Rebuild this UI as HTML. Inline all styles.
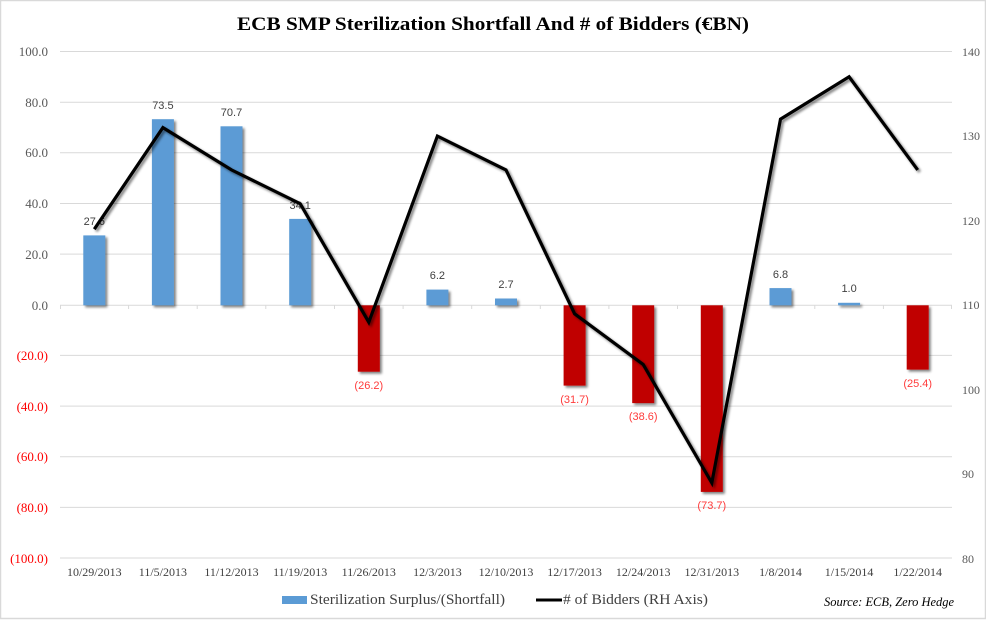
<!DOCTYPE html>
<html><head><meta charset="utf-8"><style>
html,body{margin:0;padding:0;background:#fff;}
svg{display:block;}
.serif{font-family:"Liberation Serif",serif;}
.sans{font-family:"Liberation Sans",sans-serif;}
</style></head><body>
<svg width="986" height="620" viewBox="0 0 986 620" xmlns="http://www.w3.org/2000/svg">
<defs>
<filter id="sh" x="-20%" y="-20%" width="140%" height="140%">
<feGaussianBlur in="SourceAlpha" stdDeviation="1.4"/>
<feOffset dx="2" dy="2" result="o"/>
<feComponentTransfer><feFuncA type="linear" slope="0.5"/></feComponentTransfer>
<feMerge><feMergeNode/><feMergeNode in="SourceGraphic"/></feMerge>
</filter>
</defs>
<rect x="0.5" y="0.5" width="985" height="618" fill="#fff" stroke="#d9d9d9" stroke-width="1.5"/>
<text class="serif" x="493" y="30" text-anchor="middle" font-weight="bold" font-size="19" fill="#000" textLength="512" lengthAdjust="spacingAndGlyphs">ECB SMP Sterilization Shortfall And # of Bidders (€BN)</text>
<g stroke="#d9d9d9" stroke-width="1">
<line x1="60" y1="51.5" x2="952" y2="51.5"/>
<line x1="60" y1="102.2" x2="952" y2="102.2"/>
<line x1="60" y1="152.8" x2="952" y2="152.8"/>
<line x1="60" y1="203.5" x2="952" y2="203.5"/>
<line x1="60" y1="254.1" x2="952" y2="254.1"/>
<line x1="60" y1="305.3" x2="952" y2="305.3"/>
<line x1="60" y1="355.4" x2="952" y2="355.4"/>
<line x1="60" y1="406.1" x2="952" y2="406.1"/>
<line x1="60" y1="456.7" x2="952" y2="456.7"/>
<line x1="60" y1="507.4" x2="952" y2="507.4"/>
<line x1="60" y1="558" x2="952" y2="558"/>
</g>
<g stroke="#d9d9d9" stroke-width="1">
<line x1="60.5" y1="305" x2="60.5" y2="309"/><line x1="128.6" y1="305" x2="128.6" y2="309"/><line x1="197.2" y1="305" x2="197.2" y2="309"/><line x1="265.8" y1="305" x2="265.8" y2="309"/><line x1="334.5" y1="305" x2="334.5" y2="309"/><line x1="403.1" y1="305" x2="403.1" y2="309"/><line x1="471.7" y1="305" x2="471.7" y2="309"/><line x1="540.3" y1="305" x2="540.3" y2="309"/><line x1="608.9" y1="305" x2="608.9" y2="309"/><line x1="677.5" y1="305" x2="677.5" y2="309"/><line x1="746.2" y1="305" x2="746.2" y2="309"/><line x1="814.8" y1="305" x2="814.8" y2="309"/><line x1="883.4" y1="305" x2="883.4" y2="309"/><line x1="951.5" y1="305" x2="951.5" y2="309"/>
</g>
<g class="serif" font-size="13" text-anchor="end">
<text x="48" y="56" fill="#595959">100.0</text>
<text x="48" y="107" fill="#595959">80.0</text>
<text x="48" y="157" fill="#595959">60.0</text>
<text x="48" y="208" fill="#595959">40.0</text>
<text x="48" y="259" fill="#595959">20.0</text>
<text x="48" y="310" fill="#595959">0.0</text>
<text x="48" y="360" fill="#ff0000">(20.0)</text>
<text x="48" y="411" fill="#ff0000">(40.0)</text>
<text x="48" y="461" fill="#ff0000">(60.0)</text>
<text x="48" y="512" fill="#ff0000">(80.0)</text>
<text x="48" y="563" fill="#ff0000">(100.0)</text>
</g>
<g class="serif" font-size="12" fill="#595959">
<text x="962" y="56">140</text>
<text x="962" y="140">130</text>
<text x="962" y="225">120</text>
<text x="962" y="309">110</text>
<text x="962" y="394">100</text>
<text x="962" y="478">90</text>
<text x="962" y="563">80</text>
</g>
<g class="serif" font-size="12" fill="#404040" text-anchor="middle">
<text x="94.3" y="576">10/29/2013</text>
<text x="162.9" y="576">11/5/2013</text>
<text x="231.5" y="576">11/12/2013</text>
<text x="300.2" y="576">11/19/2013</text>
<text x="368.8" y="576">11/26/2013</text>
<text x="437.4" y="576">12/3/2013</text>
<text x="506" y="576">12/10/2013</text>
<text x="574.6" y="576">12/17/2013</text>
<text x="643.2" y="576">12/24/2013</text>
<text x="711.8" y="576">12/31/2013</text>
<text x="780.5" y="576">1/8/2014</text>
<text x="849.1" y="576">1/15/2014</text>
<text x="917.7" y="576">1/22/2014</text>
</g>
<g filter="url(#sh)">
<rect x="83.3" y="235.4" width="22" height="69.9" fill="#5b9bd5"/>
<rect x="151.9" y="119.2" width="22" height="186.1" fill="#5b9bd5"/>
<rect x="220.5" y="126.3" width="22" height="179" fill="#5b9bd5"/>
<rect x="289.2" y="218.9" width="22" height="86.4" fill="#5b9bd5"/>
<rect x="357.8" y="305.3" width="22" height="66.4" fill="#c00000"/>
<rect x="426.4" y="289.6" width="22" height="15.7" fill="#5b9bd5"/>
<rect x="495" y="298.5" width="22" height="6.8" fill="#5b9bd5"/>
<rect x="563.6" y="305.3" width="22" height="80.3" fill="#c00000"/>
<rect x="632.2" y="305.3" width="22" height="97.8" fill="#c00000"/>
<rect x="700.8" y="305.3" width="22" height="186.6" fill="#c00000"/>
<rect x="769.5" y="288.1" width="22" height="17.2" fill="#5b9bd5"/>
<rect x="838.1" y="302.8" width="22" height="2.5" fill="#5b9bd5"/>
<rect x="906.7" y="305.3" width="22" height="64.3" fill="#c00000"/>
</g>
<g class="sans" font-size="11" text-anchor="middle">
<text x="94.3" y="225" fill="#404040">27.6</text>
<text x="162.9" y="109" fill="#404040">73.5</text>
<text x="231.5" y="116" fill="#404040">70.7</text>
<text x="300.2" y="209" fill="#404040">34.1</text>
<text x="368.8" y="389" fill="#ff3b3b">(26.2)</text>
<text x="437.4" y="279" fill="#404040">6.2</text>
<text x="506" y="288" fill="#404040">2.7</text>
<text x="574.6" y="403" fill="#ff3b3b">(31.7)</text>
<text x="643.2" y="420" fill="#ff3b3b">(38.6)</text>
<text x="711.8" y="509" fill="#ff3b3b">(73.7)</text>
<text x="780.5" y="278" fill="#404040">6.8</text>
<text x="849.1" y="292" fill="#404040">1.0</text>
<text x="917.7" y="387" fill="#ff3b3b">(25.4)</text>
</g>
<polyline filter="url(#sh)" fill="none" stroke="#000" stroke-width="3.2" stroke-linejoin="miter" points="94.3,229.2 162.9,127.6 231.5,169.9 300.2,203.7 368.8,322.2 437.4,136.1 506,169.9 574.6,313.8 643.2,364.5 711.8,482.9 780.5,119.1 849.1,76.8 917.7,169.9"/>
<rect x="282" y="596" width="25" height="8" fill="#5b9bd5"/>
<text class="serif" x="310" y="604" font-size="14.5" fill="#404040" textLength="195" lengthAdjust="spacingAndGlyphs">Sterilization Surplus/(Shortfall)</text>
<line x1="536" y1="600" x2="562" y2="600" stroke="#000" stroke-width="3"/>
<text class="serif" x="563" y="604" font-size="14.5" fill="#404040" textLength="145" lengthAdjust="spacingAndGlyphs"># of Bidders (RH Axis)</text>
<text class="serif" x="824" y="606" font-style="italic" font-size="13" fill="#000" textLength="130" lengthAdjust="spacingAndGlyphs">Source: ECB, Zero Hedge</text>
</svg>
</body></html>
